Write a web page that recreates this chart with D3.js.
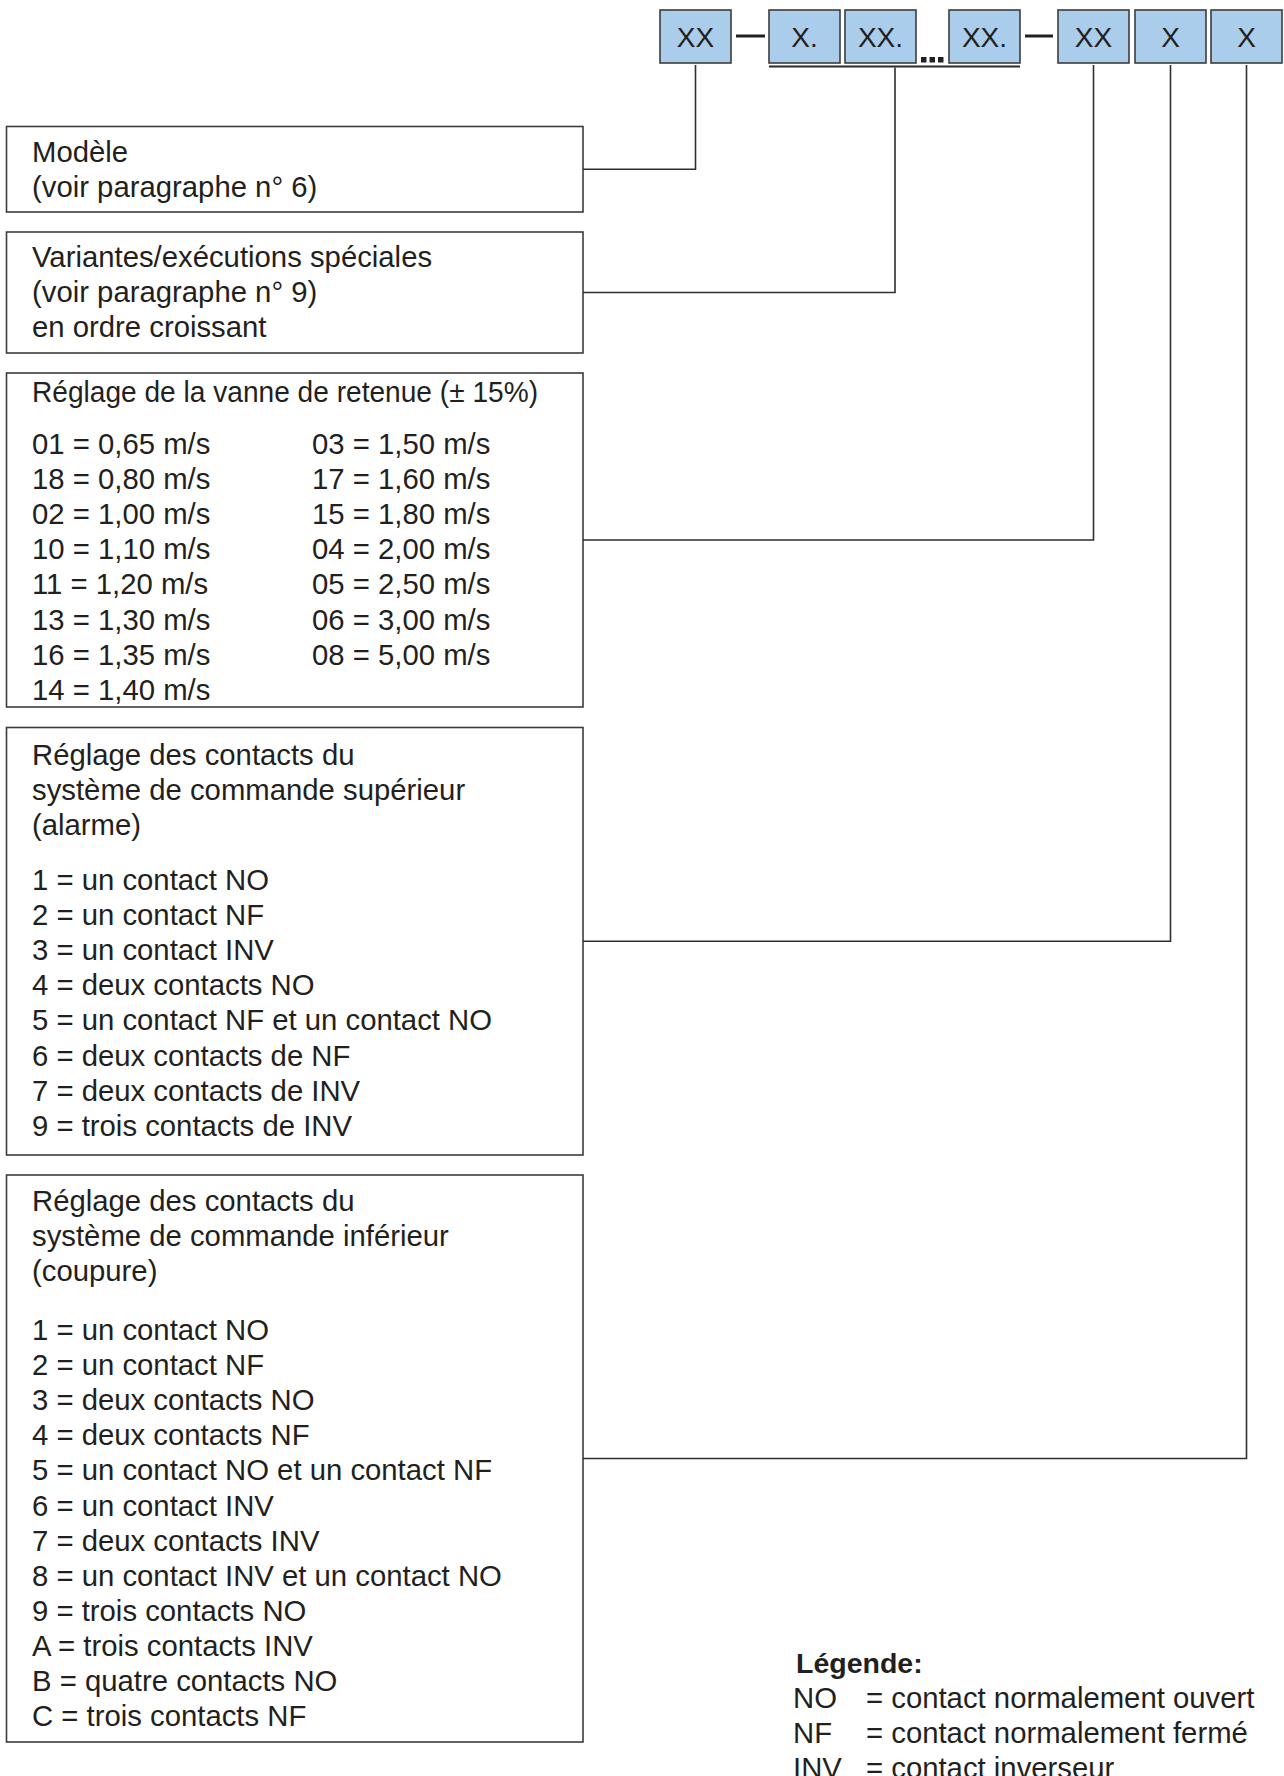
<!DOCTYPE html>
<html>
<head>
<meta charset="utf-8">
<script src="https://cdn.jsdelivr.net/npm/d3@7"></script>
<style>
  html, body { margin: 0; padding: 0; background: #fff; }
  svg text { font-family: "Liberation Sans", Arial, Helvetica, sans-serif; fill: #231f20; }
</style>
</head>
<body>
<div id="graphic"></div>
<script>
// code boxes across the top, left to right
const codeLabels = ['XX', 'X.', 'XX.', 'XX.', 'XX', 'X', 'X'];

// description boxes (header lines, then the list of values)
const modeleLines = ['Modèle', '(voir paragraphe n° 6)'];
const variantesLines = ['Variantes/exécutions spéciales', '(voir paragraphe n° 9)', 'en ordre croissant'];

const vanneTitle = ['Réglage de la vanne de retenue (± 15%)'];
const vanneCol1 = ['01 = 0,65 m/s', '18 = 0,80 m/s', '02 = 1,00 m/s', '10 = 1,10 m/s',
                   '11 = 1,20 m/s', '13 = 1,30 m/s', '16 = 1,35 m/s', '14 = 1,40 m/s'];
const vanneCol2 = ['03 = 1,50 m/s', '17 = 1,60 m/s', '15 = 1,80 m/s', '04 = 2,00 m/s',
                   '05 = 2,50 m/s', '06 = 3,00 m/s', '08 = 5,00 m/s'];

const superieurTitle = ['Réglage des contacts du', 'système de commande supérieur', '(alarme)'];
const superieurItems = ['1 = un contact NO', '2 = un contact NF', '3 = un contact INV',
                        '4 = deux contacts NO', '5 = un contact NF et un contact NO',
                        '6 = deux contacts de NF', '7 = deux contacts de INV', '9 = trois contacts de INV'];

const inferieurTitle = ['Réglage des contacts du', 'système de commande inférieur', '(coupure)'];
const inferieurItems = ['1 = un contact NO', '2 = un contact NF', '3 = deux contacts NO',
                        '4 = deux contacts NF', '5 = un contact NO et un contact NF',
                        '6 = un contact INV', '7 = deux contacts INV', '8 = un contact INV et un contact NO',
                        '9 = trois contacts NO', 'A = trois contacts INV', 'B = quatre contacts NO',
                        'C = trois contacts NF'];

const legendTitle = 'Légende:';
const legendKeys = ['NO', 'NF', 'INV'];
const legendValues = ['= contact normalement ouvert', '= contact normalement fermé', '= contact inverseur'];

(function () {
  var width = 1284;
  var height = 1776;
  var lineStep = 35.1;
  var fontSize = '29.3px';

  var svg = d3.select('#graphic')
    .append('svg')
    .attr('width', width)
    .attr('height', height)

  // layout of the top row (left edges), and which box each description points to
  var codeX = [660, 769, 845, 949, 1058, 1135, 1211];
  var codeW = 71, codeTop = 10, codeH = 53;

  var boxes = [
    { top: 126.5, bottom: 212, head: modeleLines, first: 162, items: [], target: 0 },
    { top: 232, bottom: 353, head: variantesLines, first: 267, items: [], target: 'group' },
    { top: 373, bottom: 707, head: vanneTitle, first: 402, titleLen: 506, items: vanneCol1, items2: vanneCol2, itemStart: 454, target: 4 },
    { top: 727.5, bottom: 1155, head: superieurTitle, first: 765, items: superieurItems, itemStart: 890, target: 5 },
    { top: 1175, bottom: 1742, head: inferieurTitle, first: 1211, items: inferieurItems, itemStart: 1340, target: 6 }
  ]

  var boxLeft = 6.5, boxRight = 583, textX = 32, col2X = 312;

  // ---- top code boxes
  var codes = svg.append('g')
  codes.selectAll('rect')
    .data(codeLabels)
    .enter().append('rect')
    .attr('x', (d, i) => codeX[i])
    .attr('y', codeTop)
    .attr('width', codeW)
    .attr('height', codeH)
    .attr('fill', '#abcdec')
    .attr('stroke', '#3c3c3c')
    .attr('stroke-width', 1.6)

  codes.selectAll('text')
    .data(codeLabels)
    .enter().append('text')
    .attr('x', (d, i) => codeX[i] + codeW / 2)
    .attr('y', codeTop + 37)
    .attr('text-anchor', 'middle')
    .style('font-size', '28px')
    .text(d => d)

  // dashes between groups
  ;[[736, 765], [1025, 1053]].forEach(d => {
    svg.append('line')
      .attr('x1', d[0]).attr('x2', d[1])
      .attr('y1', codeTop + 26).attr('y2', codeTop + 26)
      .attr('stroke', '#231f20')
      .attr('stroke-width', 3)
  })

  // the dots between XX. and XX.
  svg.selectAll('.dot')
    .data([0, 1, 2])
    .enter().append('rect')
    .attr('class', 'dot')
    .attr('x', d => 921 + d * 8.5)
    .attr('y', codeTop + codeH - 6)
    .attr('width', 5.5)
    .attr('height', 5.5)
    .attr('fill', '#231f20')

  // underline under variantes group
  var underY = codeTop + codeH + 3.5
  svg.append('line')
    .attr('x1', codeX[1]).attr('x2', codeX[3] + codeW)
    .attr('y1', underY).attr('y2', underY)
    .attr('stroke', '#2a2a2a')
    .attr('stroke-width', 2)

  // ---- description boxes
  boxes.forEach(b => {
    var g = svg.append('g')

    g.append('rect')
      .attr('x', boxLeft)
      .attr('y', b.top)
      .attr('width', boxRight - boxLeft)
      .attr('height', b.bottom - b.top)
      .attr('fill', 'none')
      .attr('stroke', '#3c3c3c')
      .attr('stroke-width', 1.6)

    var headY = d3.scaleLinear().domain([0, 1]).range([b.first, b.first + lineStep])
    var heads = g.selectAll('.head')
      .data(b.head)
      .enter().append('text')
      .attr('class', 'head')
      .attr('x', textX)
      .attr('y', (d, i) => headY(i))
      .style('font-size', fontSize)
      .text(d => d)
    if (b.titleLen) {
      heads.attr('textLength', b.titleLen).attr('lengthAdjust', 'spacingAndGlyphs')
    }

    if (b.items.length) {
      var itemY = d3.scaleLinear().domain([0, 1]).range([b.itemStart, b.itemStart + lineStep])
      g.selectAll('.item')
        .data(b.items)
        .enter().append('text')
        .attr('class', 'item')
        .attr('x', textX)
        .attr('y', (d, i) => itemY(i))
        .style('font-size', fontSize)
        .text(d => d)

      if (b.items2) {
        g.selectAll('.item2')
          .data(b.items2)
          .enter().append('text')
          .attr('class', 'item2')
          .attr('x', col2X)
          .attr('y', (d, i) => itemY(i))
          .style('font-size', fontSize)
          .text(d => d)
      }
    }

    // connector: out of the box's right side, across, then up to its code box
    var cy = (b.top + b.bottom) / 2
    var cx, cTop
    if (b.target === 'group') {
      cx = (codeX[1] + codeX[3] + codeW) / 2 + 0.5
      cTop = underY + 1
    } else {
      cx = codeX[b.target] + codeW / 2
      cTop = codeTop + codeH + 2
    }
    svg.append('path')
      .attr('d', d3.line()([[boxRight, cy], [cx, cy], [cx, cTop]]))
      .attr('fill', 'none')
      .attr('stroke', '#2f2f2f')
      .attr('stroke-width', 1.6)
  })

  // ---- legend
  var legend = svg.append('g')
  legend.append('text')
    .attr('x', 796)
    .attr('y', 1673)
    .style('font-size', '28.5px')
    .style('font-weight', 'bold')
    .text(legendTitle)

  var legY = d3.scaleLinear().domain([0, 1]).range([1708, 1743])
  legend.selectAll('.key')
    .data(legendKeys)
    .enter().append('text')
    .attr('class', 'key')
    .attr('x', 793)
    .attr('y', (d, i) => legY(i))
    .style('font-size', fontSize)
    .text(d => d)

  legend.selectAll('.val')
    .data(legendValues)
    .enter().append('text')
    .attr('class', 'val')
    .attr('x', 866)
    .attr('y', (d, i) => legY(i))
    .style('font-size', fontSize)
    .text(d => d)
})()
</script>
</body>
</html>
